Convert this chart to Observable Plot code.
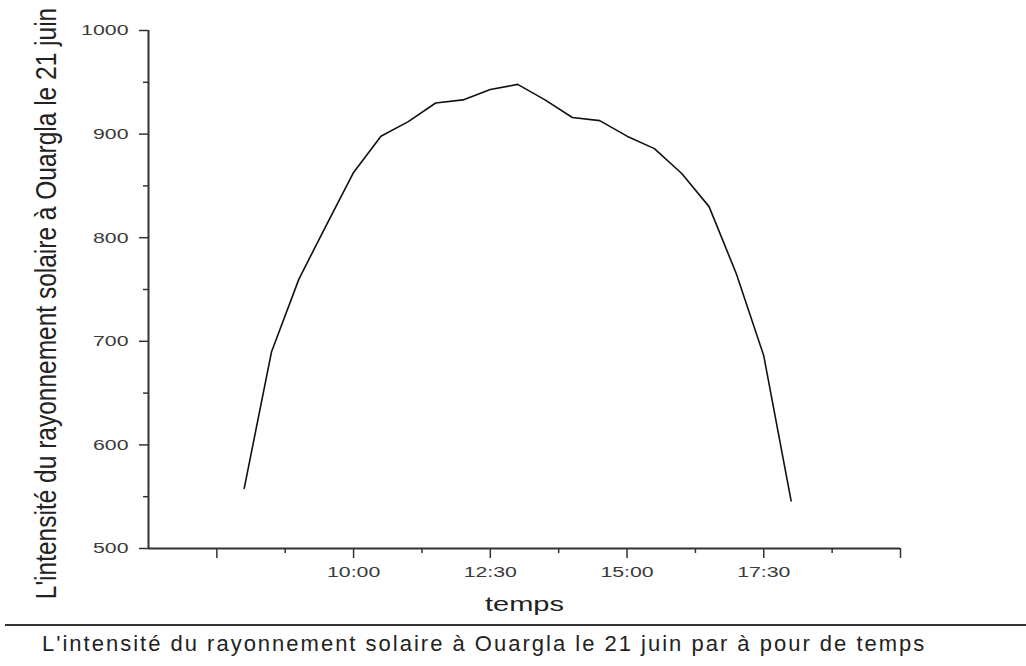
<!DOCTYPE html>
<html>
<head>
<meta charset="utf-8">
<script src="https://cdn.jsdelivr.net/npm/d3@7"></script>
<script src="https://cdn.jsdelivr.net/npm/@observablehq/plot@0.6"></script>
<style>
  body { margin: 0; background: #fff; font-family: "Liberation Sans", Arial, sans-serif; }
  #chart svg { display: block; }
  #caption {
    margin-left: 5px;
    border-top: 2px solid #333;
    padding: 3px 0 0 37px;
    font-size: 22px;
    line-height: 30px;
    color: #222;
    letter-spacing: 2px;
    white-space: nowrap;
  }
</style>
</head>
<body>
<div id="chart"></div>
<div id="caption"></div>
<script>
// ---- data ----
const times  = ["8:00","8:30","9:00","9:30","10:00","10:30","11:00","11:30","12:00","12:30",
                "13:00","13:30","14:00","14:30","15:00","15:30","16:00","16:30","17:00","17:30","18:00"];
const values = [558, 690, 760, 812, 863, 898, 912, 930, 933, 943,
                948, 933, 916, 913, 898, 886, 862, 830, 765, 686, 546];

const yMajorTicks = [500, 600, 700, 800, 900, 1000];
const yMinorTicks = [550, 650, 750, 850, 950];
const xMajorTicks = ["7:30", "10:00", "12:30", "15:00", "17:30", "20:00"];
const xLabeledTicks = ["10:00", "12:30", "15:00", "17:30"];
const xMinorTicks = ["8:45", "11:15", "13:45", "16:15", "18:45"];
const xDomain = ["6:15", "20:00"];
const yDomain = [500, 1000];

const yLabel = "L'intensité du rayonnement solaire à Ouargla le 21 juin";
const xLabel = "temps";
const captionText = "L'intensité du rayonnement solaire à Ouargla le 21 juin par à pour de temps";

// ---- helpers ----
const hours = s => { const [h, m] = s.split(":").map(Number); return h + m / 60; };
const fmt = h => { const H = Math.floor(h + 1e-9); const M = Math.round((h - H) * 60); return H + ":" + String(M).padStart(2, "0"); };
const data = times.map((t, i) => ({t: hours(t), v: values[i]}));

const ink = "#222";
const axisInk = "#333";
const tickInk = "#3a3a3a";

const plot = Plot.plot({
  width: 1026,
  height: 624,
  marginLeft: 148,
  marginRight: 126,
  marginTop: 30,
  marginBottom: 76,
  x: {domain: xDomain.map(hours), label: null},
  y: {domain: yDomain, label: null},
  style: {fontFamily: "'Liberation Sans', Arial, sans-serif", color: ink, background: "#fff"},
  marks: [
    Plot.axisY(yMajorTicks, {tickSize: 9, tickPadding: 11, fontSize: 15, stroke: axisInk, fill: tickInk, strokeWidth: 1.5, label: null,
      tickFormat: d => String(d)}),
    Plot.axisY(yMinorTicks, {tickSize: 5, tickFormat: () => "", stroke: axisInk, strokeWidth: 1.5, label: null}),
    Plot.axisX(xMajorTicks.map(hours), {
      tickSize: 10, tickPadding: 8, fontSize: 15, stroke: axisInk, fill: tickInk, strokeWidth: 1.5, label: null,
      tickFormat: d => xLabeledTicks.includes(fmt(d)) ? fmt(d) : ""
    }),
    Plot.axisX(xMinorTicks.map(hours), {tickSize: 5, tickFormat: () => "", stroke: axisInk, strokeWidth: 1.5, label: null}),
    Plot.ruleY([yDomain[0]], {stroke: axisInk, strokeWidth: 2}),
    Plot.ruleX([hours(xDomain[0])], {stroke: axisInk, strokeWidth: 2}),
    Plot.line(data, {x: "t", y: "v", stroke: "#111", strokeWidth: 1.6}),
    Plot.text([yLabel], {frameAnchor: "left", textAnchor: "middle", rotate: -90, dx: -102, dy: 14, fontSize: 24.5, fill: ink}),
    Plot.text([xLabel], {frameAnchor: "bottom", dy: 62, fontSize: 20, fill: ink})
  ]
});

document.getElementById("chart").appendChild(plot);
document.getElementById("caption").textContent = captionText;

// widen the glyphs horizontally like the reference picture
function stretch(sel, k) {
  sel.each(function () {
    const L = this.getComputedTextLength();
    if (L > 0) {
      this.setAttribute("textLength", (L * k).toFixed(1));
      this.setAttribute("lengthAdjust", "spacingAndGlyphs");
    }
  });
}
const svg = d3.select(plot);
stretch(svg.selectAll('g[aria-label="y-axis tick label"] text'), 1.42);
stretch(svg.selectAll('g[aria-label="x-axis tick label"] text'), 1.42);
stretch(svg.selectAll("text").filter(function () { return this.textContent === xLabel; }), 1.45);
svg.selectAll("text").filter(function () { return this.textContent === yLabel; })
  .each(function () {
    const t = this.getAttribute("transform") || "";
    this.setAttribute("transform", t + " scale(1,1.2)");
  });
</script>
</body>
</html>
